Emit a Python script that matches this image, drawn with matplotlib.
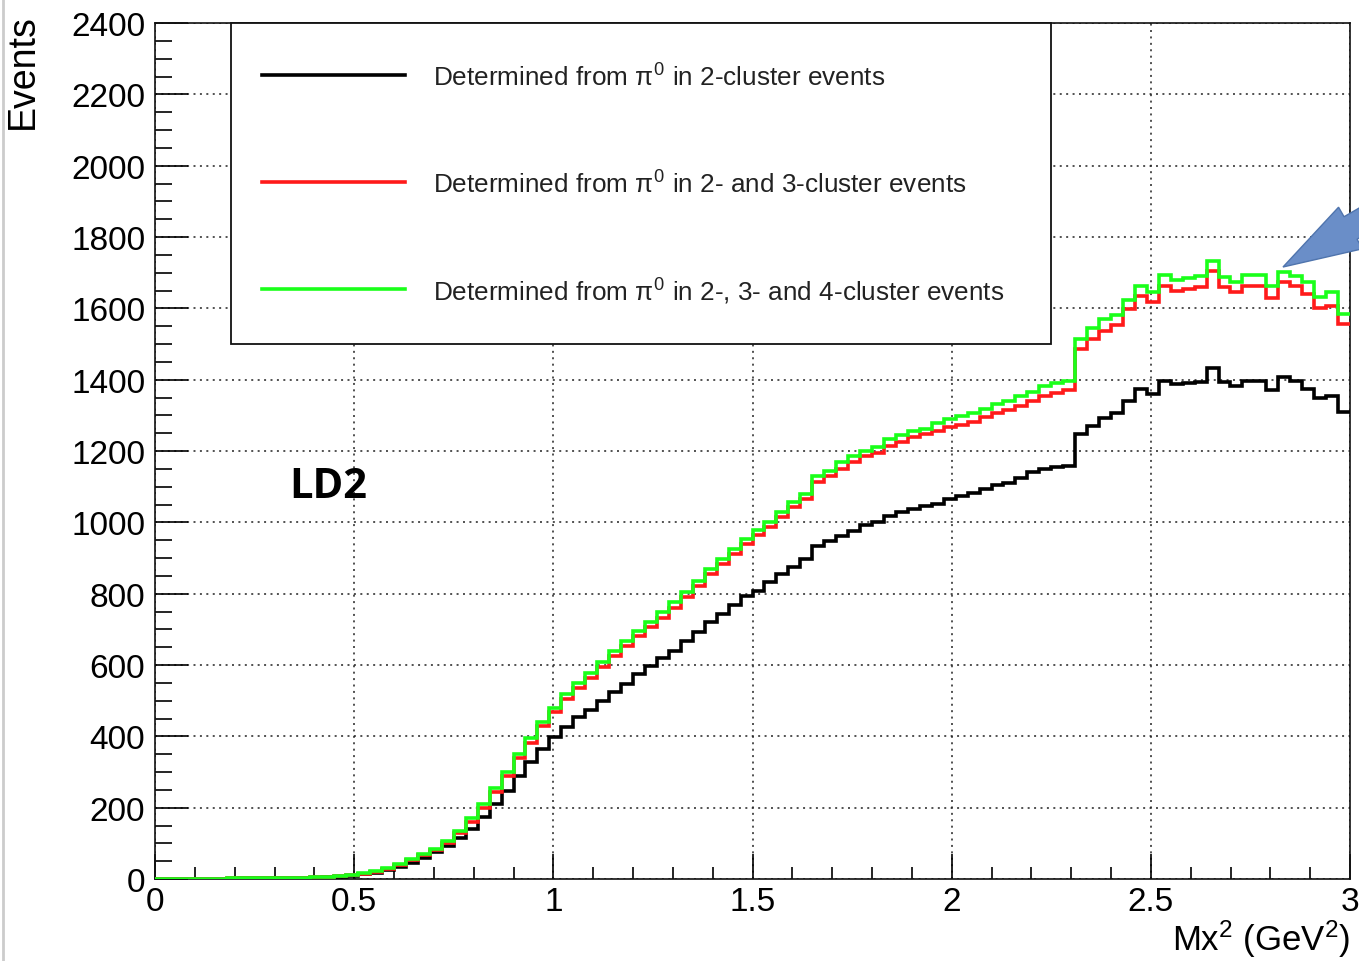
import numpy as np
import matplotlib
matplotlib.use("Agg")
import matplotlib.pyplot as plt
from matplotlib.patches import Rectangle, Polygon
from matplotlib.lines import Line2D
from matplotlib.ticker import MultipleLocator

# ---------------------------------------------------------------- data
# Mx^2 binning: 100 bins of 0.03 GeV^2 between 0 and 3 GeV^2
bin_edges = np.linspace(0.0, 3.0, 101)

# events determined from pi0 in 2-cluster events
events_2cl = [
    0, 0, 1, 1, 1, 1, 1, 2, 2, 2,
    2, 3, 3, 4, 5, 7, 9, 13, 18, 25,
    33, 45, 59, 75, 93, 114, 140, 173, 210, 248,
    290, 329, 364, 397, 425, 453, 475, 500, 525, 547,
    575, 598, 619, 640, 668, 693, 720, 743, 768, 794,
    808, 834, 855, 874, 897, 935, 949, 963, 977, 993,
    1000, 1019, 1028, 1037, 1045, 1051, 1065, 1073, 1082, 1093,
    1105, 1110, 1123, 1140, 1150, 1154, 1159, 1249, 1271, 1292,
    1307, 1341, 1374, 1360, 1397, 1388, 1391, 1394, 1432, 1393,
    1383, 1397, 1397, 1372, 1407, 1397, 1375, 1348, 1353, 1310,
]

# events determined from pi0 in 2- and 3-cluster events
events_23cl = [
    0, 0, 1, 1, 1, 1, 2, 2, 2, 2,
    3, 3, 4, 5, 6, 8, 10, 15, 21, 28,
    40, 53, 67, 80, 101, 128, 161, 200, 244, 289,
    339, 381, 428, 467, 504, 535, 564, 594, 625, 653,
    682, 706, 733, 761, 791, 821, 855, 882, 910, 938,
    965, 986, 1015, 1042, 1065, 1112, 1131, 1150, 1168, 1187,
    1194, 1215, 1226, 1238, 1248, 1257, 1266, 1273, 1282, 1294,
    1307, 1316, 1327, 1341, 1355, 1364, 1372, 1486, 1514, 1537,
    1553, 1598, 1635, 1617, 1663, 1649, 1654, 1661, 1705, 1659,
    1645, 1663, 1663, 1628, 1673, 1663, 1640, 1600, 1607, 1556,
]

# events determined from pi0 in 2-, 3- and 4-cluster events
events_234cl = [
    0, 0, 1, 1, 1, 1, 2, 2, 2, 2,
    3, 3, 4, 5, 6, 8, 11, 16, 22, 30,
    42, 56, 70, 84, 107, 135, 170, 210, 255, 301,
    351, 395, 441, 480, 518, 549, 578, 609, 640, 668,
    696, 720, 748, 776, 806, 836, 870, 897, 925, 953,
    979, 1000, 1028, 1056, 1079, 1129, 1145, 1168, 1185, 1201,
    1210, 1234, 1245, 1257, 1263, 1278, 1289, 1298, 1307, 1318,
    1332, 1341, 1353, 1366, 1381, 1391, 1395, 1514, 1544, 1570,
    1581, 1624, 1663, 1647, 1693, 1680, 1685, 1690, 1734, 1687,
    1675, 1693, 1693, 1663, 1701, 1690, 1673, 1631, 1645, 1584,
]

series_labels = [
    r"Determined from $\pi^{0}$ in 2-cluster events",
    r"Determined from $\pi^{0}$ in 2- and 3-cluster events",
    r"Determined from $\pi^{0}$ in 2-, 3- and 4-cluster events",
]
series_colors = ["#000000", "#ff1a1a", "#1aff1a"]

x_label = r"Mx$^{2}$ (GeV$^{2}$)"
y_label = "Events"
target_label = "LD2"

# ---------------------------------------------------------------- style
plt.rcParams["font.family"] = ["Liberation Sans", "DejaVu Sans"]
plt.rcParams["mathtext.fontset"] = "custom"
plt.rcParams["mathtext.rm"] = "Liberation Sans"
plt.rcParams["mathtext.it"] = "Liberation Sans"
plt.rcParams["mathtext.bf"] = "Liberation Sans:bold"
plt.rcParams["mathtext.sf"] = "Liberation Sans"

W, H = 1359, 962


def fx(px):
    return px / W


def fy(py):
    return 1.0 - py / H


fig = plt.figure(figsize=(W / 100, H / 100), dpi=100)
fig.patch.set_facecolor("white")

ax = fig.add_axes([fx(155), fy(880), (1350 - 155) / W, (880 - 24) / H])

# histograms
for vals, col in zip([events_2cl, events_23cl, events_234cl], series_colors):
    ax.stairs(vals, bin_edges, baseline=None, color=col, linewidth=2.6, zorder=3)

ax.set_xlim(0, 3)
ax.set_ylim(0, 2400)

ax.xaxis.set_major_locator(MultipleLocator(0.5))
ax.xaxis.set_minor_locator(MultipleLocator(0.1))
ax.yaxis.set_major_locator(MultipleLocator(200))
ax.yaxis.set_minor_locator(MultipleLocator(50))
ax.xaxis.set_major_formatter(
    matplotlib.ticker.FuncFormatter(lambda v, p: ("%g" % v)))

ax.tick_params(axis="y", which="major", direction="in", length=24, width=1.2,
               labelsize=24, pad=7)
ax.tick_params(axis="y", which="minor", direction="in", length=12, width=1.2)
ax.tick_params(axis="x", which="major", direction="in", length=18, width=1.2,
               labelsize=24, pad=5)
ax.tick_params(axis="x", which="minor", direction="in", length=9, width=1.2)

for sp in ax.spines.values():
    sp.set_linewidth(1.2)
    sp.set_color("#111111")

ax.grid(True, which="major", color="#222222", linestyle=(0, (1.3, 2.9)),
        linewidth=1.1, zorder=1)
ax.set_axisbelow(True)

# axis titles
fig.text(fx(1350), fy(951), x_label, ha="right", va="baseline", fontsize=25)
fig.text(fx(23), fy(72), y_label, rotation=90, ha="center", va="center",
         fontsize=27)

# target label
fig.text(fx(328), fy(488), target_label, ha="center", va="center",
         fontsize=30, fontweight="bold", family=["Open Sans", "DejaVu Sans"])

# legend box
fig.add_artist(Rectangle((fx(231), fy(345)), (1051 - 231) / W, (345 - 24) / H,
                         transform=fig.transFigure, facecolor="white",
                         edgecolor="#111111", linewidth=1.3, zorder=5))
for i, (lab, col) in enumerate(zip(series_labels, series_colors)):
    yy = [76, 183, 290][i]
    fig.add_artist(Line2D([fx(262), fx(405)], [fy(yy), fy(yy)],
                          transform=fig.transFigure, color=col,
                          linewidth=2.6, zorder=6))
    fig.text(fx(433), fy(yy + 2), lab, ha="left", va="center", fontsize=18.8,
             color="#222222", zorder=6)

# pointer arrow at the upper right
tip = np.array([1283.0, 268.0])
ang = np.deg2rad(30.0)
u = np.array([np.cos(ang), -np.sin(ang)])
p = np.array([np.sin(ang), np.cos(ang)])
head_len, head_hw, shaft_hw, shaft_len = 78.0, 24.0, 13.0, 90.0
pts_px = [
    tip,
    tip + head_len * u + head_hw * p,
    tip + head_len * u + shaft_hw * p,
    tip + (head_len + shaft_len) * u + shaft_hw * p,
    tip + (head_len + shaft_len) * u - shaft_hw * p,
    tip + head_len * u - shaft_hw * p,
    tip + head_len * u - head_hw * p,
]
pts_fig = [(fx(q[0]), fy(q[1])) for q in pts_px]
fig.add_artist(Polygon(pts_fig, closed=True, transform=fig.transFigure,
                       facecolor="#6a8ec8", edgecolor="#4f74ad",
                       linewidth=1.0, zorder=7))

# thin grey edge line at the left border
fig.add_artist(Line2D([fx(3), fx(3)], [0, 1], transform=fig.transFigure,
                      color="#cccccc", linewidth=2.0, zorder=8))

fig.savefig("out.png", dpi=100, facecolor="white")
